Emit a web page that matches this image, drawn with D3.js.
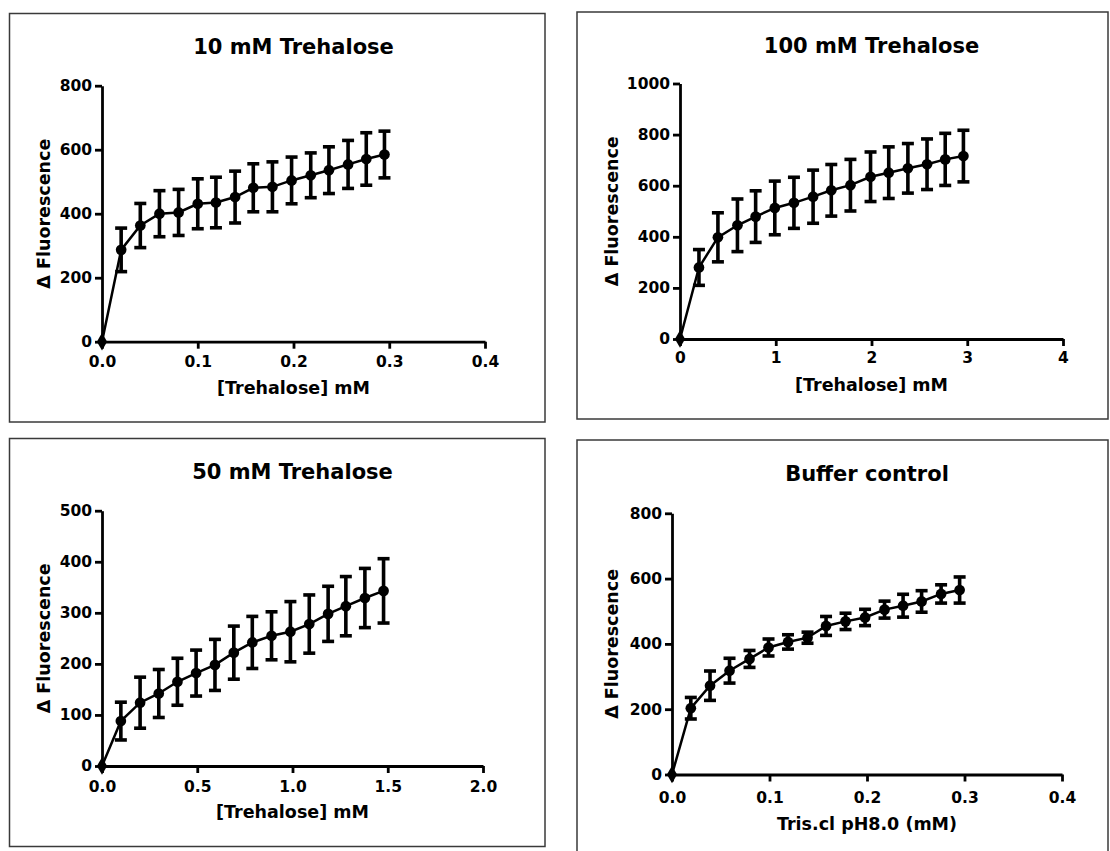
<!DOCTYPE html>
<html>
<head>
<meta charset="utf-8">
<script src="https://cdnjs.cloudflare.com/ajax/libs/d3/7.8.5/d3.min.js"></script>
<style>
  body { margin: 0; background: #fff; }
  text { font-family: "DejaVu Sans", sans-serif; font-weight: bold; fill: #000; }
</style>
</head>
<body>
<div id="chart"></div>
<script>
// 10 mM Trehalose
var conc10 = [0, 0.020, 0.040, 0.060, 0.080, 0.100, 0.119, 0.139, 0.158, 0.178, 0.198, 0.218, 0.237, 0.257, 0.276, 0.295];
var fluor10 = [0, 287, 363, 400, 404, 431, 435, 452, 481, 484, 504, 520, 536, 554, 571, 585];
var sem10 = [0, 68, 69, 72, 72, 78, 79, 81, 75, 78, 73, 70, 73, 75, 82, 73];

// 100 mM Trehalose
var conc100 = [0, 0.198, 0.396, 0.60, 0.79, 0.99, 1.19, 1.39, 1.58, 1.78, 1.99, 2.18, 2.38, 2.58, 2.77, 2.96];
var fluor100 = [0, 280, 398, 445, 479, 513, 533, 557, 582, 602, 635, 651, 668, 684, 703, 716];
var sem100 = [0, 70, 96, 103, 101, 105, 100, 104, 101, 101, 97, 101, 97, 99, 102, 101];

// 50 mM Trehalose
var conc50 = [0, 0.099, 0.200, 0.298, 0.396, 0.494, 0.593, 0.692, 0.789, 0.890, 0.989, 1.088, 1.187, 1.280, 1.380, 1.478];
var fluor50 = [0, 88, 124, 142, 165, 182, 198, 222, 242, 255, 263, 278, 298, 313, 329, 343];
var sem50 = [0, 37, 50, 47, 46, 45, 50, 52, 51, 47, 59, 57, 54, 58, 58, 63];

// Buffer control
var concBuf = [0, 0.0193, 0.039, 0.059, 0.0795, 0.099, 0.119, 0.139, 0.158, 0.178, 0.198, 0.218, 0.237, 0.256, 0.276, 0.295];
var fluorBuf = [0, 203, 272, 318, 354, 389, 406, 419, 455, 469, 481, 505, 517, 530, 553, 565];
var semBuf = [0, 33, 45, 38, 26, 26, 22, 17, 29, 25, 25, 26, 35, 33, 28, 40];

// axis ticks
var xTicks10 = [0, 0.1, 0.2, 0.3, 0.4];
var yTicks10 = [0, 200, 400, 600, 800];
var xTicks100 = [0, 1, 2, 3, 4];
var yTicks100 = [0, 200, 400, 600, 800, 1000];
var xTicks50 = [0, 0.5, 1.0, 1.5, 2.0];
var yTicks50 = [0, 100, 200, 300, 400, 500];
var xTicksBuf = [0, 0.1, 0.2, 0.3, 0.4];
var yTicksBuf = [0, 200, 400, 600, 800];

var titles = ["10 mM Trehalose", "100 mM Trehalose", "50 mM Trehalose", "Buffer control"];
var xTitles = ["[Trehalose] mM", "[Trehalose] mM", "[Trehalose] mM", "Tris.cl pH8.0 (mM)"];
var yTitle = "\u0394 Fluorescence";

function init() {
    var w = 1110;
    var h = 851;

    var svg = d3.select("#chart")
                .append("svg")
                .attr("width", w)
                .attr("height", h);

    // panel layout: frame box, plot area, label offsets
    var panels = [
        { box: [9.5, 13.5, 535.5, 408.5], l: 102, r: 485, t: 85.7, b: 341.7,
          titleY: 54, yt: 52, xt: 52, tp: 7,
          x: conc10, y: fluor10, e: sem10, xt_: xTicks10, yt_: yTicks10, xf: ".1f" },
        { box: [577, 12, 531, 407], l: 680, r: 1063, t: 83.5, b: 339,
          titleY: 53, yt: 62, xt: 52, tp: 6,
          x: conc100, y: fluor100, e: sem100, xt_: xTicks100, yt_: yTicks100, xf: "d" },
        { box: [9.5, 438.5, 535.5, 408], l: 102, r: 483, t: 510.7, b: 766,
          titleY: 479, yt: 52, xt: 52, tp: 8,
          x: conc50, y: fluor50, e: sem50, xt_: xTicks50, yt_: yTicks50, xf: ".1f" },
        { box: [577, 440, 531, 420], l: 672, r: 1062, t: 513.3, b: 774.5,
          titleY: 481, yt: 54, xt: 55, tp: 10,
          x: concBuf, y: fluorBuf, e: semBuf, xt_: xTicksBuf, yt_: yTicksBuf, xf: ".1f" }
    ];

    panels.forEach(function(p, i) {
        var g = svg.append("g");

        // frame
        g.append("rect")
         .attr("x", p.box[0]).attr("y", p.box[1])
         .attr("width", p.box[2]).attr("height", p.box[3])
         .attr("fill", "none")
         .attr("stroke", "#3a3a3a")
         .attr("stroke-width", 1.5);

        var x = d3.scaleLinear()
                  .domain([p.xt_[0], p.xt_[p.xt_.length - 1]])
                  .range([p.l, p.r]);
        var y = d3.scaleLinear()
                  .domain([p.yt_[0], p.yt_[p.yt_.length - 1]])
                  .range([p.b, p.t]);

        // axes
        var xAxis = g.append("g")
                     .attr("transform", "translate(0," + p.b + ")")
                     .call(d3.axisBottom(x).tickValues(p.xt_)
                             .tickFormat(d3.format(p.xf))
                             .tickSize(7).tickSizeOuter(0).tickPadding(p.tp));
        var yAxis = g.append("g")
                     .attr("transform", "translate(" + p.l + ",0)")
                     .call(d3.axisLeft(y).tickValues(p.yt_)
                             .tickFormat(d3.format("d"))
                             .tickSize(7).tickSizeOuter(0).tickPadding(3));

        [xAxis, yAxis].forEach(function(a) {
            a.select(".domain").attr("stroke", "#000").attr("stroke-width", 2.8);
            a.selectAll(".tick line").attr("stroke", "#000").attr("stroke-width", 2.8);
            a.selectAll(".tick text")
             .attr("font-family", "DejaVu Sans")
             .attr("font-weight", "bold")
             .attr("font-size", 15.5)
             .attr("fill", "#000");
        });

        // titles
        g.append("text")
         .attr("x", (p.l + p.r) / 2)
         .attr("y", p.titleY)
         .attr("text-anchor", "middle")
         .attr("font-size", 21)
         .text(titles[i]);

        g.append("text")
         .attr("x", (p.l + p.r) / 2)
         .attr("y", p.b + p.xt)
         .attr("text-anchor", "middle")
         .attr("font-size", 17.5)
         .text(xTitles[i]);

        g.append("text")
         .attr("transform", "translate(" + (p.l - p.yt) + "," + ((p.t + p.b) / 2) + ") rotate(-90)")
         .attr("text-anchor", "middle")
         .attr("font-size", 17.5)
         .text(yTitle);

        var data = p.x.map(function(d, k) {
            return { x: d, y: p.y[k], e: p.e[k] };
        });

        // error bars
        var bars = g.append("g")
                    .attr("stroke", "#000")
                    .attr("stroke-width", 3.6)
                    .attr("fill", "none");
        data.filter(function(d) { return d.e > 0; }).forEach(function(d) {
            var cx = x(d.x);
            var hi = y(d.y + d.e), lo = y(d.y - d.e);
            bars.append("line").attr("x1", cx).attr("x2", cx).attr("y1", hi).attr("y2", lo);
            bars.append("line").attr("x1", cx - 6).attr("x2", cx + 6).attr("y1", hi).attr("y2", hi);
            bars.append("line").attr("x1", cx - 6).attr("x2", cx + 6).attr("y1", lo).attr("y2", lo);
        });

        // connecting line
        var line = d3.line()
                     .x(function(d) { return x(d.x); })
                     .y(function(d) { return y(d.y); });
        g.append("path")
         .datum(data)
         .attr("d", line)
         .attr("fill", "none")
         .attr("stroke", "#000")
         .attr("stroke-width", 2.5);

        // markers (the point at the origin is drawn as a diamond)
        g.selectAll("path.pt")
         .data(data)
         .enter()
         .append("path")
         .attr("class", "pt")
         .attr("transform", function(d) { return "translate(" + x(d.x) + "," + y(d.y) + ")"; })
         .attr("d", function(d) {
             return d.x === 0 ? d3.symbol().type(d3.symbolDiamond).size(90)()
                              : d3.symbol().type(d3.symbolCircle).size(90)();
         })
         .attr("fill", "#000");
    });
}

window.onload = init;
</script>
</body>
</html>
